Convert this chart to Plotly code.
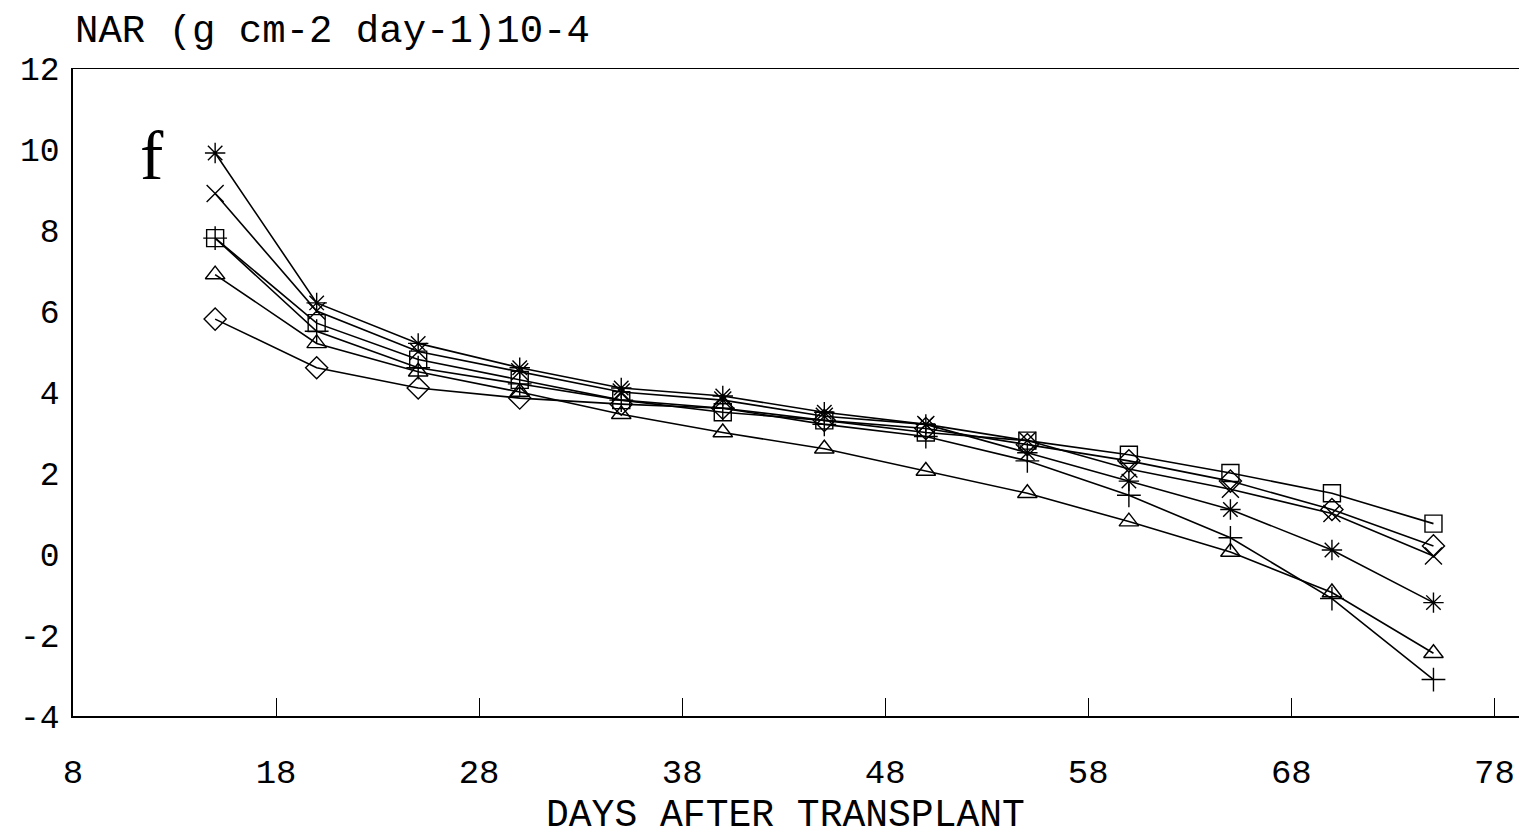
import plotly.graph_objects as go

days = [15, 20, 25, 30, 35, 40, 45, 50, 55, 60, 65, 70, 75]
star = [9.9, 6.2, 5.2, 4.6, 4.1, 3.9, 3.5, 3.2, 2.5, 1.8, 1.1, 0.1, -1.2]
xmark = [8.9, 6.0, 5.0, 4.5, 4.0, 3.8, 3.4, 3.2, 2.8, 2.1, 1.6, 1.0, -0.05]
square = [7.8, 5.7, 4.8, 4.3, 3.8, 3.5, 3.3, 3.0, 2.8, 2.45, 2.0, 1.5, 0.75]
diamond = [5.8, 4.6, 4.1, 3.85, 3.7, 3.6, 3.3, 3.1, 2.7, 2.3, 1.8, 1.1, 0.2]
triangle = [6.9, 5.2, 4.5, 4.0, 3.45, 3.0, 2.6, 2.05, 1.5, 0.8, 0.05, -0.95, -2.45]
plus = [7.8, 5.5, 4.6, 4.2, 3.8, 3.6, 3.2, 2.9, 2.3, 1.45, 0.4, -1.1, -3.1]

x_ticks = [8, 18, 28, 38, 48, 58, 68, 78]
y_ticks = [-4, -2, 0, 2, 4, 6, 8, 10, 12]
y_tick_text = ["-4", "-2", "0", "2", "4", "6", "8", "10", "12"]

series = [
    ("star", star, "asterisk-open"),
    ("x", xmark, "x-thin-open"),
    ("square", square, "square-open"),
    ("diamond", diamond, "diamond-open"),
    ("triangle", triangle, "triangle-up-open"),
    ("plus", plus, "cross-thin-open"),
]

MONO = "Liberation Mono"
SERIF = "Liberation Serif"
fig = go.Figure()
for name, vals, sym in series:
    fig.add_trace(go.Scatter(
        x=days, y=vals, mode="lines+markers", name=name,
        line=dict(color="black", width=1.6),
        marker=dict(symbol=sym, size=17, color="black",
                    line=dict(color="black", width=1.4)),
        showlegend=False,
    ))

fig.add_hline(y=0, line=dict(color="black", width=1.4))

# page body has an 8px margin; compensate so the plot lands where the reference has it
L, T, B = 65, 60, 129
fig.update_layout(
    width=1527, height=837,
    margin=dict(l=L, r=0, t=T, b=B),
    paper_bgcolor="white", plot_bgcolor="white",
    font=dict(family=MONO, size=34, color="black"),
    xaxis=dict(range=[8, 80.0], tickvals=x_ticks, ticks="inside", ticklen=18,
               tickwidth=1.2, tickcolor="black", showgrid=False, zeroline=False,
               showline=True, linecolor="black", linewidth=2, mirror=False,
               automargin=False, ticklabelstandoff=24,
               tickfont=dict(size=34, family=MONO)),
    yaxis=dict(range=[-4, 12], tickvals=y_ticks, ticktext=y_tick_text, ticks="",
               showgrid=False, zeroline=False, showline=True, linecolor="black",
               linewidth=1.6, automargin=False, ticklabelstandoff=5,
               tickfont=dict(size=33, family=MONO)),
    shapes=[dict(type="line", xref="paper", yref="y", x0=0, x1=1, y0=12, y1=12,
                 line=dict(color="black", width=2))],
    annotations=[
        dict(text="NAR (g cm-2 day-1)10-4", xref="paper", yref="paper",
             x=0, y=1.0, xshift=0, yshift=36, xanchor="left", yanchor="middle",
             showarrow=False, font=dict(size=39, family=MONO)),
        dict(text="f", xref="x", yref="y", x=11.9, y=9.85, showarrow=False,
             font=dict(size=70, family=SERIF)),
        dict(text="DAYS AFTER TRANSPLANT", xref="paper", yref="paper",
             x=(785 - 8 - L) / (1527 - L), y=0, yshift=-99, xanchor="center",
             yanchor="middle", showarrow=False, font=dict(size=38, family=MONO)),
    ],
)

fig.write_html("out.html")
